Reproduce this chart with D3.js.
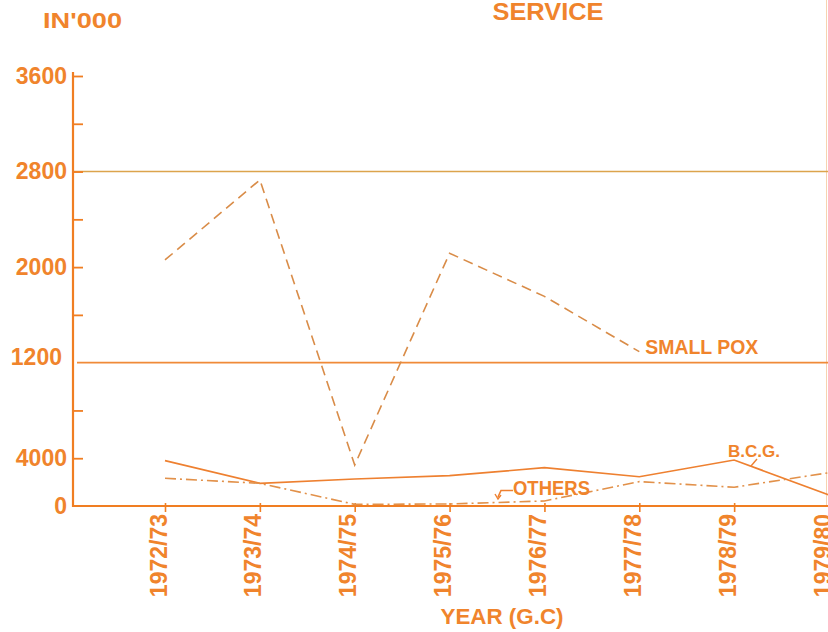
<!DOCTYPE html>
<html>
<head>
<meta charset="utf-8">
<script src="https://cdn.jsdelivr.net/npm/d3@7"></script>
<style>
  html, body { margin: 0; padding: 0; background: #fff; }
  svg { display: block; }
  text { font-family: "Liberation Sans", Arial, sans-serif; font-weight: bold; fill: #F0842C; }
</style>
</head>
<body>
<svg id="chart" width="828" height="632"></svg>
<script>
// ---- data ----
const years = ["1972/73", "1973/74", "1974/75", "1975/76", "1976/77", "1977/78", "1978/79", "1979/80"];
const smallPox = [2060, 2730, 343, 2116, 1755, 1292];          // 1972/73 .. 1977/78
const bcg      = [380, 190, 226, 254, 321, 245, 385, 92];
const others   = [232, 190, 14, 17, 42, 204, 157, 279];
const yTicks   = [0, 400, 800, 1200, 1600, 2000, 2400, 2800, 3200, 3600];
const yTickLabels = { 0: "0", 400: "4000", 1200: "1200", 2000: "2000", 2800: "2800", 3600: "3600" };
const refLines = [2800, 1200];

// ---- layout ----
const W = 828, H = 632;
const axisX = 73, baseY = 506;
const svg = d3.select("#chart");

const x = d3.scalePoint().domain(years).range([165, 829]);
const y = d3.scaleLinear().domain([0, 3600]).range([baseY, 76]);

// faint right border
svg.append("line").attr("x1", 826.5).attr("x2", 826.5).attr("y1", 0).attr("y2", baseY)
  .attr("stroke", "#F7D3B0").attr("stroke-width", 1);

// reference horizontal lines
svg.append("line").attr("x1", axisX).attr("x2", W).attr("y1", y(refLines[0])).attr("y2", y(refLines[0]))
  .attr("stroke", "#DCA44C").attr("stroke-width", 1.6);
svg.append("line").attr("x1", 77).attr("x2", W).attr("y1", y(refLines[1])).attr("y2", y(refLines[1]))
  .attr("stroke", "#F08A38").attr("stroke-width", 1.6);

// y axis
const yAxis = d3.axisLeft(y).tickValues(yTicks).tickSizeInner(-10).tickSizeOuter(0).tickPadding(6)
  .tickFormat(d => yTickLabels[d] || "");
const gy = svg.append("g").attr("transform", `translate(${axisX},0)`).call(yAxis);
gy.select(".domain").remove();
gy.selectAll(".tick line").attr("stroke", "#F07E22").attr("stroke-width", 1.8)
  .filter(d => d === 0 || d === 1200).remove();
gy.selectAll(".tick text").attr("font-size", 23).attr("fill", "#F0842C")
  .style("font-family", "'Liberation Sans', Arial, sans-serif");
gy.selectAll(".tick text").filter(d => d === 1200).attr("dx", -5).attr("dy", "0.1em");
svg.append("line").attr("x1", axisX).attr("x2", axisX).attr("y1", 72).attr("y2", baseY + 1)
  .attr("stroke", "#F07E22").attr("stroke-width", 2.2);

// x axis
const xAxis = d3.axisBottom(x).tickSizeInner(6).tickSizeOuter(0).tickPadding(0);
const gx = svg.append("g").attr("transform", `translate(0,${baseY})`).call(xAxis);
gx.select(".domain").remove();
gx.selectAll(".tick line").attr("stroke", "#F07E22").attr("stroke-width", 1.6).attr("y1", -3);
gx.selectAll(".tick text")
  .attr("transform", "rotate(-90)")
  .attr("text-anchor", "end")
  .attr("x", -8).attr("y", 1).attr("dy", 0)
  .attr("font-size", 23).attr("fill", "#F0842C")
  .style("font-family", "'Liberation Sans', Arial, sans-serif");
svg.append("line").attr("x1", axisX - 1).attr("x2", W).attr("y1", baseY).attr("y2", baseY)
  .attr("stroke", "#F07E22").attr("stroke-width", 2.2);

// series lines
const line = d3.line().x((d, i) => x(years[i])).y(d => y(d));
svg.append("path").datum(smallPox).attr("d", line)
  .attr("fill", "none").attr("stroke", "#D98C48").attr("stroke-width", 1.6)
  .attr("stroke-dasharray", "10 6");
svg.append("path").datum(bcg).attr("d", line)
  .attr("fill", "none").attr("stroke", "#EE8030").attr("stroke-width", 1.7);
svg.append("path").datum(others).attr("d", line)
  .attr("fill", "none").attr("stroke", "#E2914A").attr("stroke-width", 1.6)
  .attr("stroke-dasharray", "11 4 2 4");

// titles
svg.append("text").attr("x", 43).attr("y", 28).attr("font-size", 22)
  .attr("textLength", 79).attr("lengthAdjust", "spacingAndGlyphs").text("IN'000");
svg.append("text").attr("x", 548).attr("y", 20).attr("text-anchor", "middle").attr("font-size", 23)
  .attr("textLength", 111).attr("lengthAdjust", "spacingAndGlyphs").text("SERVICE");
svg.append("text").attr("x", 502).attr("y", 624).attr("text-anchor", "middle").attr("font-size", 22)
  .attr("textLength", 123).attr("lengthAdjust", "spacingAndGlyphs").text("YEAR (G.C)");

// series labels
const last = smallPox.length - 1;
svg.append("text").attr("x", x(years[last]) + 6).attr("y", y(smallPox[last]) + 2).attr("font-size", 21)
  .attr("textLength", 113).attr("lengthAdjust", "spacingAndGlyphs").text("SMALL POX");
svg.append("text").attr("x", 513).attr("y", 495).attr("font-size", 21)
  .attr("textLength", 77).attr("lengthAdjust", "spacingAndGlyphs").text("OTHERS");
svg.append("text").attr("x", 728).attr("y", 457).attr("font-size", 17)
  .attr("textLength", 52).attr("lengthAdjust", "spacingAndGlyphs").text("B.C.G.");

// leader for B.C.G.
svg.append("path").attr("d", "M751,466 L757,459").attr("stroke", "#EE8030").attr("stroke-width", 1.4).attr("fill", "none");
// hooked arrow for OTHERS
svg.append("path").attr("d", "M513,490.5 L501,490.5 L498,497").attr("stroke", "#EE8030").attr("stroke-width", 1.6).attr("fill", "none");
svg.append("path").attr("d", "M495,494 L498,499 L501,495").attr("stroke", "#EE8030").attr("stroke-width", 1.4).attr("fill", "none");
</script>
</body>
</html>
